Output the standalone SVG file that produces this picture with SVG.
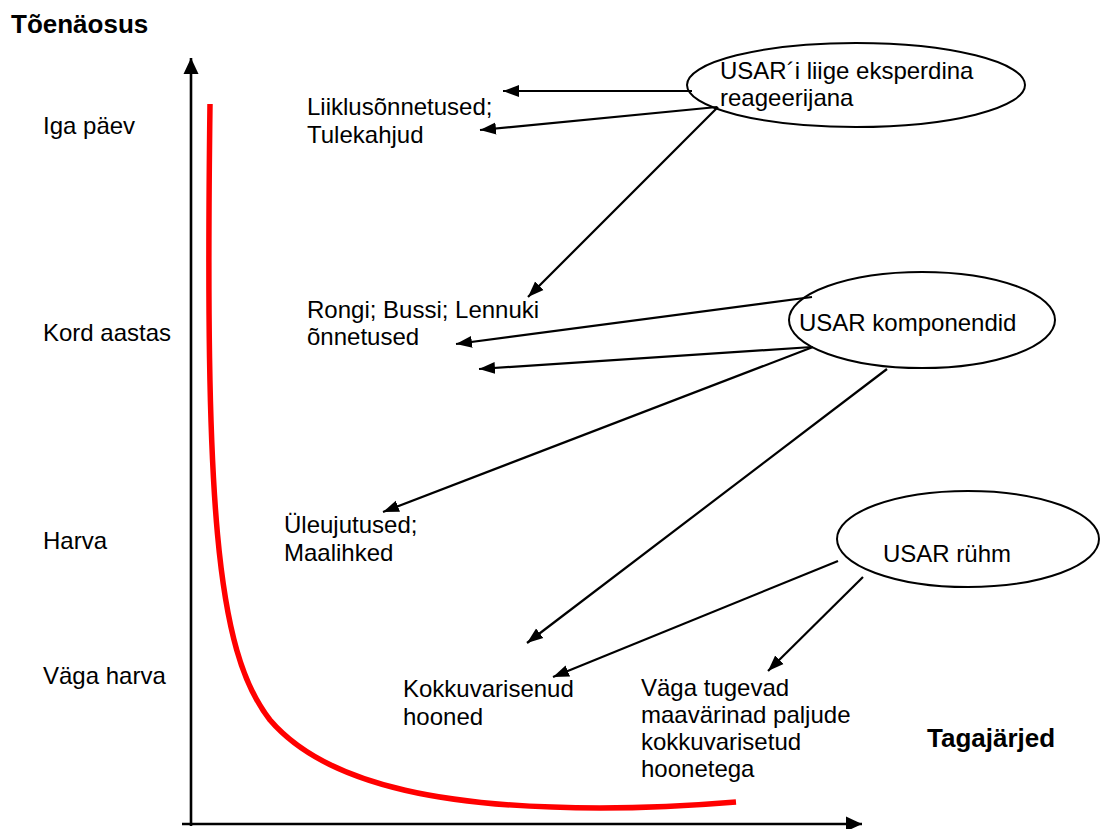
<svg xmlns="http://www.w3.org/2000/svg" width="1105" height="829" viewBox="0 0 1105 829">
<style>
text{font-family:"Liberation Sans",Arial,sans-serif;font-size:24px;fill:#000}
.b{font-weight:bold;font-size:26px}
.ell{fill:#fff;stroke:#000;stroke-width:2}
.con{stroke:#000;stroke-width:2.2;fill:none;marker-end:url(#ah)}
.axis{stroke:#000;stroke-width:2.6;fill:none;marker-end:url(#axh)}
</style>
<defs>
<marker id="ah" markerUnits="userSpaceOnUse" markerWidth="17" markerHeight="13" refX="16" refY="6.5" orient="auto" viewBox="0 0 17 13">
<path d="M0,0.5 L16,6.5 L0,12.5 z" fill="#000"/>
</marker>
<marker id="axh" markerUnits="userSpaceOnUse" markerWidth="17" markerHeight="16" refX="16" refY="8" orient="auto" viewBox="0 0 17 16">
<path d="M0,0.5 L16,8 L0,15.5 z" fill="#000"/>
</marker>
</defs>
<rect width="1105" height="829" fill="#fff"/>
<g id="axes">
<line class="axis" x1="191" y1="826" x2="191" y2="58"/>
<line class="axis" x1="182" y1="824" x2="862" y2="824"/>
<path id="curve" d="M210,104 C205,500 215,650 270,720 C330,790 460,808 600,808 C660,808 700,805 736,802" fill="none" stroke="#ff0000" stroke-width="5.5"/>
</g>
<g id="axis-labels">
<text class="b" x="11" y="33">Tõenäosus</text>
<text class="b" x="927" y="747">Tagajärjed</text>
<text x="43" y="134">Iga päev</text>
<text x="43" y="341">Kord aastas</text>
<text x="43" y="549">Harva</text>
<text x="43" y="684">Väga harva</text>
</g>
<g id="node-liiklus">
<text x="307" y="115">Liiklusõnnetused;</text>
<text x="307" y="143">Tulekahjud</text>
</g>
<g id="node-rongi">
<text x="307" y="318">Rongi; Bussi; Lennuki</text>
<text x="307" y="345">õnnetused</text>
</g>
<g id="node-uleujutused">
<text x="284" y="533">Üleujutused;</text>
<text x="284" y="561">Maalihked</text>
</g>
<g id="node-kokkuvarisenud">
<text x="403" y="697">Kokkuvarisenud</text>
<text x="403" y="725">hooned</text>
</g>
<g id="node-maavarinad">
<text x="641" y="696">Väga tugevad</text>
<text x="641" y="723">maavärinad paljude</text>
<text x="641" y="750">kokkuvarisetud</text>
<text x="641" y="777">hoonetega</text>
</g>
<g id="node-liige">
<ellipse class="ell" cx="856" cy="85" rx="169" ry="42"/>
<text x="720" y="79">USAR´i liige eksperdina</text>
<text x="720" y="106">reageerijana</text>
</g>
<g id="node-komponendid">
<ellipse class="ell" cx="922" cy="320" rx="133" ry="48"/>
<text x="799" y="331">USAR komponendid</text>
</g>
<g id="node-ruhm">
<ellipse class="ell" cx="968" cy="539" rx="131" ry="48"/>
<text x="883" y="562">USAR rühm</text>
</g>
<g id="connectors">
<line class="con" x1="692" y1="91" x2="503" y2="91"/>
<line class="con" x1="717" y1="107" x2="480" y2="130"/>
<line class="con" x1="718" y1="107" x2="528" y2="297"/>
<line class="con" x1="812" y1="297" x2="456" y2="344"/>
<line class="con" x1="812" y1="347" x2="479" y2="369"/>
<line class="con" x1="813" y1="347" x2="383" y2="512"/>
<line class="con" x1="887" y1="369" x2="527" y2="643"/>
<line class="con" x1="838" y1="561" x2="553" y2="677"/>
<line class="con" x1="863" y1="577" x2="768" y2="671"/>
</g>
</svg>
